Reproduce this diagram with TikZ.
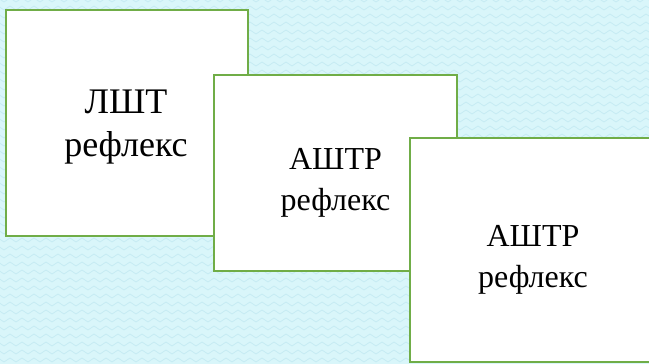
\documentclass[tikz,border=0pt]{standalone}
\usepackage{fontspec}
\setmainfont{Liberation Serif}
\usetikzlibrary{decorations.pathmorphing}
\definecolor{bgcyan}{RGB}{217,246,250}
\definecolor{zzcyan}{RGB}{198,235,243}
\definecolor{boxgreen}{RGB}{112,173,71}
\tikzset{
  zz/.style={draw=zzcyan, line width=0.8pt, decorate, decoration={zigzag, segment length=12pt, amplitude=2pt}},
  card/.style={draw=boxgreen, line width=2.6pt, fill=white},
  lblbig/.style={inner sep=0pt, align=center, font=\fontsize{36}{43}\selectfont},
  lblsmall/.style={inner sep=0pt, align=center, font=\fontsize{32}{41}\selectfont}
}
\begin{document}
\begin{tikzpicture}[x=1pt,y=-1pt]
\useasboundingbox (0,0) rectangle (649,364);
\fill[bgcyan] (0,0) rectangle (649,364);
\foreach \r in {0,...,46} { \draw[zz] (-5,\r*8) -- (660,\r*8); }
% box 1
\draw[card] (6,10) rectangle (248,236);
\coordinate (c1) at (126,127.5);
\node[lblbig] (t1) at (c1) {ЛШТ\\рефлекс};
% box 2
\draw[card] (214,75) rectangle (457,271);
\coordinate (c2) at (335.5,182.5);
\node[lblsmall] (t2) at (c2) {АШТР\\рефлекс};
% box 3
\draw[card] (410,138) rectangle (656,362);
\coordinate (c3) at (533,259.5);
\node[lblsmall] (t3) at (c3) {АШТР\\рефлекс};
\end{tikzpicture}
\end{document}
